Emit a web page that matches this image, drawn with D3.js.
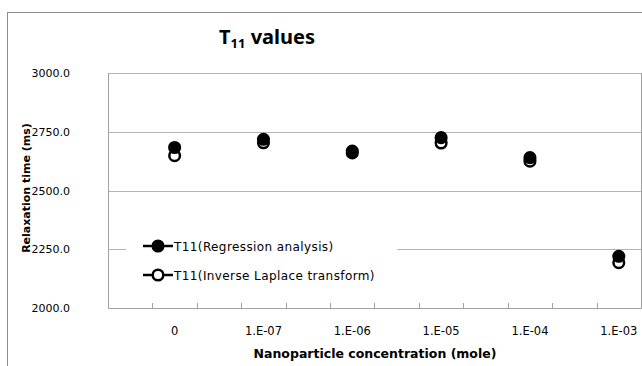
<!DOCTYPE html>
<html>
<head>
<meta charset="utf-8">
<script src="https://cdn.jsdelivr.net/npm/d3@7"></script>
<style>
  body { margin: 0; background: #fff; }
  text { font-family: 'DejaVu Sans', sans-serif; fill: #000; }
</style>
</head>
<body>
<script>
var width = 642
var height = 366

// data
var categories = ['0', '1.E-07', '1.E-06', '1.E-05', '1.E-04', '1.E-03']
var regression = [2683, 2718, 2668, 2725, 2640, 2220]
var laplace = [2648, 2703, 2660, 2702, 2625, 2193]
var yTicks = [2000, 2250, 2500, 2750, 3000]
var seriesNames = ['T11(Regression analysis)', 'T11(Inverse Laplace transform)']

var plot = { left: 108, right: 641, top: 73, bottom: 308 }
var slot = (plot.right - plot.left) / 12

var svg = d3.select('body').append('svg')
  .attr('width', width)
  .attr('height', height)

// outer chart border
svg.append('rect')
  .attr('x', 7.5).attr('y', 12.5)
  .attr('width', width + 10).attr('height', height + 10)
  .attr('fill', 'none')
  .attr('stroke', '#8c8c8c')

var x = d3.scalePoint()
  .domain(categories)
  .range([plot.left + slot * 1.5, plot.right - slot * 0.5])

var y = d3.scaleLinear()
  .domain([2000, 3000])
  .range([plot.bottom, plot.top])

// gridlines
svg.append('g')
  .selectAll('line')
  .data(yTicks.slice(1))
  .enter().append('line')
  .attr('x1', plot.left).attr('x2', plot.right)
  .attr('y1', function (d) { return Math.round(y(d)) + 0.5 })
  .attr('y2', function (d) { return Math.round(y(d)) + 0.5 })
  .attr('stroke', '#b4b4b4')

// plot area left, bottom and right edges
svg.append('path')
  .attr('d', 'M' + (plot.left + 0.5) + ',' + plot.top + 'V' + (plot.bottom + 0.5) + 'H' + (plot.right + 0.5) + 'V' + plot.top)
  .attr('fill', 'none')
  .attr('stroke', '#a0a0a0')

// x tick marks at every half category step, pointing up
var tickXs = []
categories.forEach(function (c) {
  tickXs.push(x(c) - slot / 2, x(c) + slot / 2)
})
svg.append('g')
  .selectAll('line')
  .data(tickXs.filter(function (t) { return t < plot.right - 1 }))
  .enter().append('line')
  .attr('x1', function (d) { return Math.round(d) + 0.5 })
  .attr('x2', function (d) { return Math.round(d) + 0.5 })
  .attr('y1', plot.bottom - 5).attr('y2', plot.bottom)
  .attr('stroke', '#a0a0a0')

// y tick labels
svg.append('g')
  .selectAll('text')
  .data(yTicks)
  .enter().append('text')
  .attr('x', 70)
  .attr('y', function (d) { return y(d) + 4 })
  .attr('text-anchor', 'end')
  .style('font-size', '11px')
  .text(function (d) { return d3.format('.1f')(d) })

// x tick labels
svg.append('g')
  .selectAll('text')
  .data(categories)
  .enter().append('text')
  .attr('x', function (d) { return x(d) })
  .attr('y', 335)
  .attr('text-anchor', 'middle')
  .style('font-size', '11.5px')
  .text(function (d) { return d })

// title
var title = svg.append('text')
  .attr('x', 267)
  .attr('y', 44)
  .attr('text-anchor', 'middle')
  .style('font-family', "'Noto Sans', sans-serif")
  .style('font-weight', 'bold')
  .style('font-size', '20px')
title.append('tspan').text('T')
title.append('tspan').attr('dy', 4).style('font-size', '13px').text('11')
title.append('tspan').attr('dy', -4).text(' values')

// axis titles
svg.append('text')
  .attr('transform', 'translate(30,188) rotate(-90)')
  .attr('text-anchor', 'middle')
  .style('font-weight', 'bold')
  .style('font-size', '11px')
  .text('Relaxation time (ms)')

svg.append('text')
  .attr('x', 375)
  .attr('y', 358)
  .attr('text-anchor', 'middle')
  .style('font-weight', 'bold')
  .style('font-size', '12.5px')
  .text('Nanoparticle concentration (mole)')

// legend box hides part of the 2250 gridline
var legend = svg.append('g')
legend.append('rect')
  .attr('x', 126).attr('y', 233)
  .attr('width', 271).attr('height', 56)
  .attr('fill', '#fff')

var series = [
  { name: seriesNames[0], values: regression, fill: '#000' },
  { name: seriesNames[1], values: laplace, fill: '#fff' }
]

function marker (sel, s) {
  sel.attr('r', 5.3)
    .attr('fill', s.fill)
    .attr('stroke', '#000')
    .attr('stroke-width', 2.5)
}

series.forEach(function (s, i) {
  var ly = 246 + i * 29
  legend.append('line')
    .attr('x1', 143).attr('x2', 173)
    .attr('y1', ly).attr('y2', ly)
    .attr('stroke', '#000')
    .attr('stroke-width', 2.5)
  legend.append('circle')
    .attr('cx', 158).attr('cy', ly)
    .call(marker, s)
  legend.append('text')
    .attr('x', 174).attr('y', ly + 4.5)
    .style('font-size', '12px')
    .style('letter-spacing', '0.4px')
    .text(s.name)
})

// points, laplace drawn first so regression sits on top
series.slice().reverse().forEach(function (s) {
  svg.append('g')
    .selectAll('circle')
    .data(s.values)
    .enter().append('circle')
    .attr('cx', function (d, i) { return x(categories[i]) })
    .attr('cy', function (d) { return y(d) })
    .call(marker, s)
})
</script>
</body>
</html>
